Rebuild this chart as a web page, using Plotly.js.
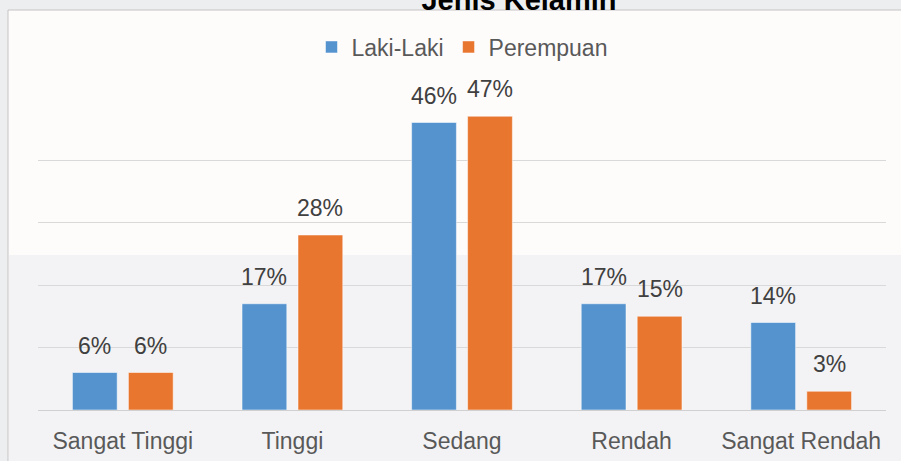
<!DOCTYPE html>
<html>
<head>
<meta charset="utf-8">
<script src="https://cdn.plot.ly/plotly-3.0.1.min.js"></script>
<style>
html,body{margin:0;padding:0;background:#edeef0;}
#chart{width:901px;height:461px;}
</style>
</head>
<body>
<div id="chart"></div>
<script>
const categories = ["Sangat Tinggi", "Tinggi", "Sedang", "Rendah", "Sangat Rendah"];
const lakiLaki = [6, 17, 46, 17, 14];
const perempuan = [6, 28, 47, 15, 3];
const seriesNames = ["Laki-Laki", "Perempuan"];
const chartTitle = "Jenis Kelamin";

const blue = "#5593cf";
const orange = "#e8762f";

const traces = [
  {type: "bar", name: seriesNames[0], x: categories, y: lakiLaki,
   marker: {color: blue, line: {color: "rgba(255,255,255,0.5)", width: 1}}, hoverinfo: "skip"},
  {type: "bar", name: seriesNames[1], x: categories, y: perempuan,
   marker: {color: orange, line: {color: "rgba(255,255,255,0.5)", width: 1}}, hoverinfo: "skip"}
];

const annotations = [];
[lakiLaki, perempuan].forEach((vals, s) => {
  vals.forEach((v, i) => {
    annotations.push({
      x: categories[i], y: v, xref: "x", yref: "y",
      text: v + "%", showarrow: false,
      xshift: s === 0 ? -28 : 28, yshift: 12, yanchor: "bottom",
      font: {family: "Liberation Sans, Arial, sans-serif", size: 23, color: "#404040"}
    });
  });
});

// frame geometry in paper coordinates (plot area = 38..886 x, 97..410 y)
const px = X => (X - 38) / 848;
const py = Y => (410 - Y) / 313;

const shapes = [
  {type: "rect", xref: "paper", yref: "paper", layer: "below",
   x0: px(8), x1: px(915), y0: py(10), y1: py(475),
   fillcolor: "#fefbfb", line: {color: "#c4c4c4", width: 1}},
  {type: "rect", xref: "paper", yref: "paper", layer: "below",
   x0: px(9), x1: px(915), y0: py(255), y1: py(475),
   fillcolor: "#f3f3f5", line: {width: 0}}
];

const layout = {
  width: 901, height: 461,
  margin: {l: 38, r: 15, t: 97, b: 51},
  paper_bgcolor: "#edeef0",
  plot_bgcolor: "rgba(0,0,0,0)",
  font: {family: "Liberation Sans, Arial, sans-serif", size: 23, color: "#595959"},
  title: {text: "<b>" + chartTitle + "</b>", x: 519/901, xanchor: "center",
          xref: "container", yref: "container", y: 1, yanchor: "middle",
          font: {family: "Liberation Sans, Arial, sans-serif", size: 29, color: "#000000"}},
  barmode: "group",
  bargap: 0.34,
  bargroupgap: 0.2,
  showlegend: true,
  legend: {orientation: "h", x: 0.5, xanchor: "center", y: py(47), yanchor: "middle",
           font: {size: 23, color: "#595959"}, bgcolor: "rgba(0,0,0,0)", itemwidth: 30},
  xaxis: {type: "category", showgrid: false, showline: false, zeroline: false,
          ticks: "outside", ticklen: 10, tickcolor: "rgba(0,0,0,0)",
          tickfont: {size: 23, color: "#595959"}, fixedrange: true},
  yaxis: {range: [0, 50.08], tickvals: [0, 10, 20, 30, 40, 50], showticklabels: false, showgrid: true,
          gridcolor: "#d9d9d9", gridwidth: 1, zeroline: true, zerolinecolor: "#d0d0d0",
          zerolinewidth: 1, showline: false, fixedrange: true},
  shapes: shapes,
  annotations: annotations
};

Plotly.newPlot("chart", traces, layout, {staticPlot: true, displayModeBar: false});
</script>
</body>
</html>
